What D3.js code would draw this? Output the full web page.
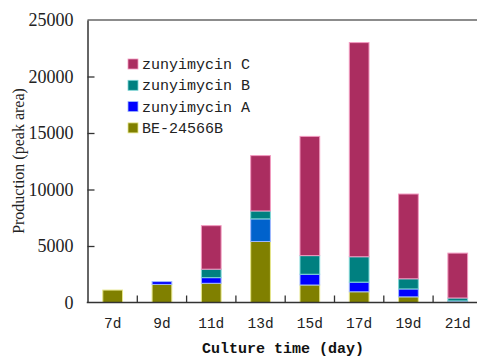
<!DOCTYPE html>
<html>
<head>
<meta charset="utf-8">
<script src="https://cdn.jsdelivr.net/npm/d3@7"></script>
<style>
  body { margin: 0; background: #fff; }
  svg { display: block; }
</style>
</head>
<body>
<div id="chart"></div>
<script>
'use strict';

var width = 477,
    height = 358,
    left = 87.5,
    top_y = 20,
    bottom_y = 302.5,
    right_x = 482.4;

// data
var days = ['7d', '9d', '11d', '13d', '15d', '17d', '19d', '21d'];
var be24566b = [1100, 1600, 1700, 5400, 1550, 950, 500, 100];
var zunyA = [0, 250, 500, 2000, 950, 850, 700, 40];
var zunyB = [0, 0, 750, 700, 1650, 2250, 900, 260];
var zunyC = [0, 0, 3850, 4900, 10550, 18950, 7500, 3970];
var yTicks = [0, 5000, 10000, 15000, 20000, 25000];

var series = [
    { name: 'BE-24566B', values: be24566b, fill: '#808000', stroke: '#e6e68a' },
    { name: 'zunyimycin A', values: zunyA, fill: '#0000ff', stroke: '#9fb8ff' },
    { name: 'zunyimycin B', values: zunyB, fill: '#008080', stroke: '#7fd6d6' },
    { name: 'zunyimycin C', values: zunyC, fill: '#ab2d60', stroke: '#f29ac0' }
];

var rows = days.map(function(d, i) {
    var r = { day: d };
    series.forEach(function(s) { r[s.name] = s.values[i]; });
    return r;
});

var stack = d3.stack().keys(series.map(function(s) { return s.name; }))(rows);

var svg = d3.select('#chart').append('svg')
    .attr('width', width)
    .attr('height', height);

var x = d3.scaleBand()
    .domain(days)
    .range([left + 0.5, right_x])
    .paddingInner(0.6)
    .paddingOuter(0.3);

var y = d3.scaleLinear()
    .domain([0, 25000])
    .range([bottom_y, top_y]);

// bars
stack.forEach(function(layer, li) {
    var s = series[li];
    svg.append('g').selectAll('rect').data(layer)
        .enter().append('rect')
        .filter(function(d) { return d[1] - d[0] > 0; })
        .attr('x', function(d) { return x(d.data.day); })
        .attr('width', x.bandwidth())
        .attr('y', function(d) { return y(d[1]); })
        .attr('height', function(d) { return y(d[0]) - y(d[1]); })
        .style('fill', function(d) {
            // the 13d A segment is a lighter blue in the figure
            if (s.name === 'zunyimycin A' && d.data.day === '13d') return '#0062cc';
            return s.fill;
        })
        .style('stroke', s.stroke)
        .style('stroke-width', 1);
});

// frame top line
svg.append('line')
    .attr('x1', left).attr('x2', width)
    .attr('y1', top_y).attr('y2', top_y)
    .style('stroke', '#666').style('stroke-width', 1.5);

// y axis
var yAxis = svg.append('g')
    .attr('transform', 'translate(' + left + ',0)')
    .call(d3.axisLeft(y).tickValues(yTicks).tickFormat(d3.format('d'))
        .tickSizeInner(-7).tickSizeOuter(0).tickPadding(14));
yAxis.select('.domain').style('stroke', '#333').style('stroke-width', 1.5);
yAxis.selectAll('.tick line').style('stroke', '#333').style('stroke-width', 1.3)
    .filter(function(d) { return d === 0 || d === 25000; }).remove();
yAxis.selectAll('text')
    .style('font-family', '"Liberation Serif", "Times New Roman", serif')
    .style('font-size', '18px')
    .style('fill', '#222');

// x axis
var bottom = svg.append('g').attr('transform', 'translate(0,' + bottom_y + ')');
bottom.append('line')
    .attr('x1', left - 0.75).attr('x2', width)
    .style('stroke', '#333').style('stroke-width', 1.5);

var bounds = days.slice(1).map(function(d) {
    return x(d) - x.step() * x.paddingInner() / 2;
});
bottom.selectAll('.mtick').data(bounds)
    .enter().append('line')
    .attr('class', 'mtick')
    .attr('x1', function(d) { return d; })
    .attr('x2', function(d) { return d; })
    .attr('y1', 0).attr('y2', -7)
    .style('stroke', '#333').style('stroke-width', 1.3);

bottom.selectAll('.xlab').data(days)
    .enter().append('text')
    .attr('class', 'xlab')
    .attr('x', function(d) { return x(d) + x.bandwidth() / 2; })
    .attr('y', 25)
    .attr('text-anchor', 'middle')
    .style('font-family', '"Liberation Mono", monospace')
    .style('font-size', '14.5px')
    .style('fill', '#222')
    .text(function(d) { return d; });

// axis titles
svg.append('text')
    .attr('x', 283)
    .attr('y', 353)
    .attr('text-anchor', 'middle')
    .style('font-family', '"Liberation Mono", monospace')
    .style('font-weight', 'bold')
    .style('font-size', '15px')
    .style('fill', '#111')
    .text('Culture time (day)');

svg.append('text')
    .attr('transform', 'translate(24,161) rotate(-90)')
    .attr('text-anchor', 'middle')
    .style('font-family', '"Liberation Serif", "Times New Roman", serif')
    .style('font-size', '16px')
    .style('fill', '#222')
    .text('Production (peak area)');

// legend
var legend = svg.append('g').selectAll('g')
    .data(series.slice().reverse())
    .enter().append('g')
    .attr('transform', function(d, i) { return 'translate(128,' + (59 + i * 21.3) + ')'; });

legend.append('rect')
    .attr('width', 10).attr('height', 10)
    .style('fill', function(d) { return d.fill; })
    .style('stroke', function(d) { return d.stroke; })
    .style('stroke-width', 0.8);

legend.append('text')
    .attr('x', 14)
    .attr('y', 10)
    .style('font-family', '"Liberation Mono", monospace')
    .style('font-size', '15px')
    .style('fill', '#222')
    .text(function(d) { return d.name; });
</script>
</body>
</html>
